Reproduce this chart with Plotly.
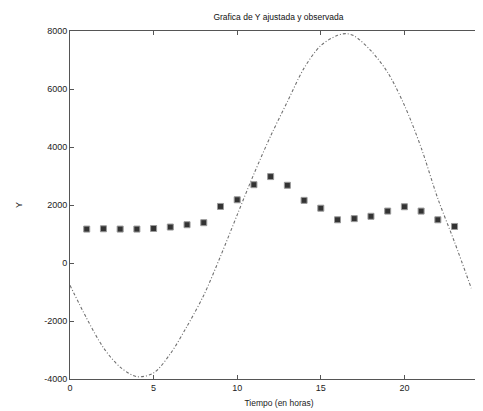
import plotly.graph_objects as go

# Observed values (squares)
obs_hours = [1, 2, 3, 4, 5, 6, 7, 8, 9, 10, 11, 12, 13, 14, 15, 16, 17, 18, 19, 20, 21, 22, 23]
obs_y = [1170, 1180, 1170, 1170, 1190, 1240, 1320, 1390, 1950, 2180, 2700, 2980,
         2680, 2160, 1890, 1490, 1530, 1610, 1790, 1940, 1790, 1490, 1260]

# Fitted curve
fit_hours = [0, 1, 2, 3, 4, 5, 6, 7, 8, 9, 10, 11, 12, 13, 14, 15, 16, 16.5, 17, 18,
             19, 20, 21, 22, 23, 24]
fit_y = [-770, -1910, -2920, -3590, -3920, -3790, -3130, -2180, -1110, 230, 1660,
         3070, 4380, 5560, 6720, 7500, 7850, 7910, 7830, 7320, 6570, 5440, 3980,
         2220, 720, -870]

x_ticks = [0, 5, 10, 15, 20, 25]
x_tick_labels = ["0", "5", "10", "15", "20", "25"]
y_ticks = [-4000, -2000, 0, 2000, 4000, 6000, 8000]
y_tick_labels = ["-4000", "-2000", "0", "2000", "4000", "6000", "8000"]

title_text = "Grafica de Y ajustada y observada"
x_title = "Tiempo (en horas)"
y_title = "Y"

fig = go.Figure()
fig.add_trace(go.Scatter(
    x=fit_hours, y=fit_y, mode="lines",
    line=dict(color="#707070", width=1.1, dash="3px,2px,1px,2px", shape="spline", smoothing=0.9),
    showlegend=False, hoverinfo="skip"))
fig.add_trace(go.Scatter(
    x=obs_hours, y=obs_y, mode="markers",
    marker=dict(symbol="square", size=6, color="#333333",
                line=dict(color="#9a9a9a", width=1)),
    showlegend=False))

axis_common = dict(
    showgrid=False, zeroline=False, showline=True, linecolor="#555555", linewidth=1,
    mirror="ticks", ticks="inside", ticklen=4, tickcolor="#555555", tickwidth=1,
    tickfont=dict(family="Liberation Sans, Arial, sans-serif", size=9, color="#222222"),
)

fig.update_layout(
    width=483, height=411,
    margin=dict(l=62, r=3, t=23, b=40),
    paper_bgcolor="white", plot_bgcolor="white",
    font=dict(family="Liberation Sans, Arial, sans-serif", size=9, color="#222222"),
    title=dict(text=title_text, x=0.56, xanchor="center", y=0.985, yanchor="top",
               font=dict(size=8.5, color="#111111")),
    xaxis=dict(range=[0, 25], tickvals=x_ticks, ticktext=x_tick_labels,
               title=dict(text=x_title, standoff=8, font=dict(size=8.5)), **axis_common),
    yaxis=dict(range=[-4000, 8000], tickvals=y_ticks, ticktext=y_tick_labels,
               title=dict(text=y_title, standoff=20, font=dict(size=9)), **axis_common),
)

fig.write_html("out.html")
